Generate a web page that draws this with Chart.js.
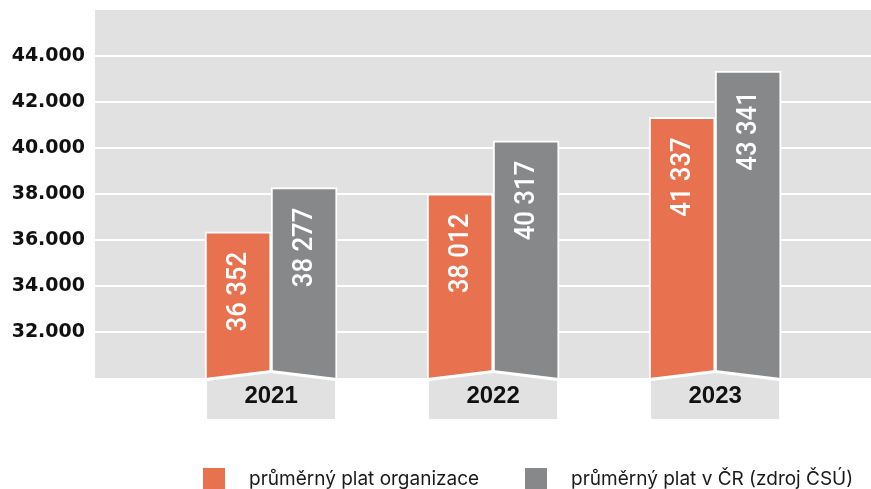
<!DOCTYPE html>
<html lang="cs">
<head>
<meta charset="utf-8">
<script src="https://cdn.jsdelivr.net/npm/chart.js@4"></script>
<style>
    body { margin: 0; background: #fff; }
    #wrap { position: relative; width: 871px; height: 489px; }
    .legend-item {
        position: absolute;
        top: 467px;
        display: flex;
        align-items: center;
        font: 19px Inter, "Noto Sans", sans-serif;
        color: #1a1a1a;
        white-space: nowrap;
    }
    .legend-item i { display: inline-block; width: 22px; height: 21px; margin-right: 24px; }
</style>
</head>
<body>
<div id="wrap">
    <canvas id="salaryChart" width="871" height="489"></canvas>
    <div class="legend-item" style="left:203px"><i style="background:#e87150"></i><span id="lg0"></span></div>
    <div class="legend-item" style="left:525px"><i style="background:#87888a"></i><span id="lg1"></span></div>
</div>
<script>
const years = ['2021', '2022', '2023'];
const seriesNames = ['průměrný plat organizace', 'průměrný plat v ČR (zdroj ČSÚ)'];
const orgSalary = [36352, 38012, 41337];
const czSalary = [38277, 40317, 43341];
const yTickValues = [32000, 34000, 36000, 38000, 40000, 42000, 44000];

const ORANGE = '#e87150';
const GREY = '#87888a';
const PANEL = '#e1e1e1';

// "36352" -> "36 352"
const spaced = v => String(v).replace(/\B(?=(\d{3})+(?!\d))/g, ' ');
// "44000" -> "44.000"
const dotted = v => String(v).replace(/\B(?=(\d{3})+(?!\d))/g, '.');

document.getElementById('lg0').textContent = seriesNames[0];
document.getElementById('lg1').textContent = seriesNames[1];

const salaryDecor = {
    id: 'salaryDecor',
    beforeDraw(chart) {
        const { ctx, chartArea: a } = chart;
        ctx.save();
        ctx.fillStyle = PANEL;
        ctx.fillRect(a.left, a.top, a.right - a.left, a.bottom - a.top);
        ctx.restore();
    },
    afterDatasetsDraw(chart) {
        const { ctx, chartArea: a } = chart;
        const m0 = chart.getDatasetMeta(0);
        const m1 = chart.getDatasetMeta(1);
        const b = a.bottom;

        // year tabs under each pair of bars
        years.forEach((year, i) => {
            const p = m0.data[i], q = m1.data[i];
            const L = p.x - p.width / 2 + 2;
            const R = q.x + q.width / 2 - 2;
            const C = (L + R) / 2;
            ctx.save();
            ctx.fillStyle = '#fff';
            ctx.beginPath();
            ctx.moveTo(L - 2, b);
            ctx.lineTo(C, b - 8);
            ctx.lineTo(R + 2, b);
            ctx.lineTo(R + 2, b + 6);
            ctx.lineTo(L - 2, b + 6);
            ctx.closePath();
            ctx.fill();
            ctx.fillStyle = PANEL;
            ctx.beginPath();
            ctx.moveTo(L, b + 3);
            ctx.lineTo(C, b - 5);
            ctx.lineTo(R, b + 3);
            ctx.lineTo(R, b + 41);
            ctx.lineTo(L, b + 41);
            ctx.closePath();
            ctx.fill();
            ctx.fillStyle = '#111';
            ctx.font = 'bold 24px "Liberation Sans", Arial, sans-serif';
            ctx.textAlign = 'center';
            ctx.textBaseline = 'middle';
            ctx.fillText(year, C, b + 18);
            ctx.restore();
        });

        // rotated values inside bars
        [m0, m1].forEach((meta, d) => {
            meta.data.forEach((bar, i) => {
                const v = chart.data.datasets[d].data[i].y;
                ctx.save();
                ctx.translate(bar.x + 1, bar.y + 20);
                ctx.rotate(-Math.PI / 2);
                ctx.scale(0.92, 1);
                ctx.fillStyle = '#fff';
                ctx.font = '500 28px Roboto, "Liberation Sans", sans-serif';
                ctx.textAlign = 'right';
                ctx.textBaseline = 'middle';
                ctx.fillText(spaced(v), 0, 0);
                ctx.restore();
            });
        });
    }
};

const ctx = document.getElementById('salaryChart').getContext('2d');

new Chart(ctx, {
    type: 'bar',
    data: {
        datasets: [
            {
                label: seriesNames[0],
                data: orgSalary.map((v, i) => ({ x: i + 1, y: v })),
                backgroundColor: ORANGE,
                borderColor: '#fff',
                borderWidth: 2,
            },
            {
                label: seriesNames[1],
                data: czSalary.map((v, i) => ({ x: i + 1, y: v })),
                backgroundColor: GREY,
                borderColor: '#fff',
                borderWidth: 2,
            }
        ]
    },
    options: {
        responsive: false,
        animation: false,
        barThickness: 66,
        layout: { padding: { top: 10, right: 0, bottom: 111, left: 0 } },
        plugins: {
            legend: { display: false },
            tooltip: { enabled: false }
        },
        scales: {
            x: {
                type: 'linear',
                min: 0.207,
                max: 3.702,
                offset: false,
                display: false
            },
            y: {
                min: 30000,
                max: 46000,
                afterFit: scale => {
                    scale.width = 95;
                    scale.paddingTop = 0;
                    scale.paddingBottom = 0;
                },
                afterBuildTicks: scale => {
                    scale.ticks = [30000, ...yTickValues, 46000].map(value => ({ value }));
                },
                border: { display: false },
                grid: {
                    drawTicks: false,
                    lineWidth: 2,
                    color: c => yTickValues.includes(c.tick.value) ? '#fff' : 'rgba(0,0,0,0)'
                },
                ticks: {
                    padding: 10,
                    color: '#111',
                    font: { family: '"DejaVu Sans"', size: 19, weight: 'bold' },
                    callback: v => yTickValues.includes(v) ? dotted(v) : ''
                }
            }
        }
    },
    plugins: [salaryDecor]
});
</script>
</body>
</html>
